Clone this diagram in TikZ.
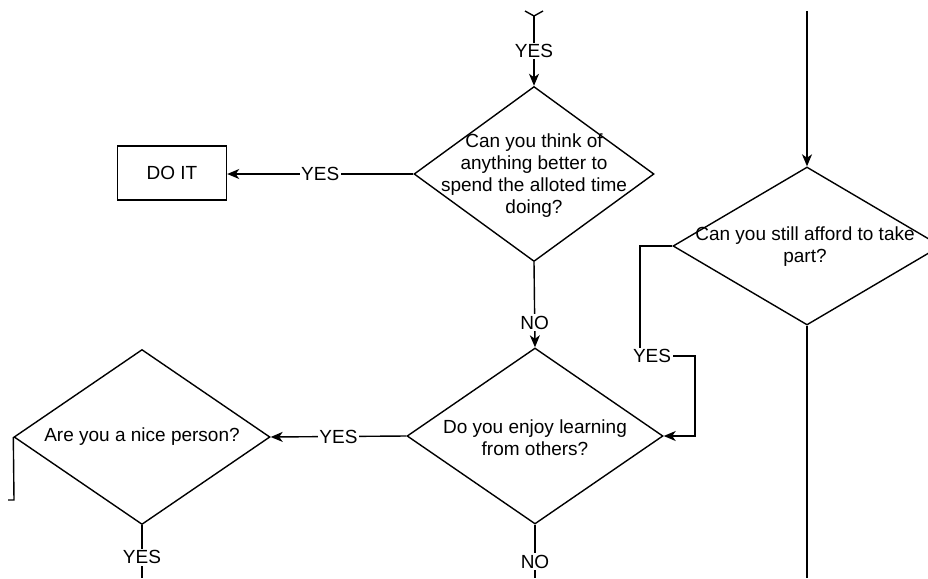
\documentclass[tikz,border=0pt]{standalone}
\usepackage{fontspec}
\setmainfont{Liberation Sans}
\usetikzlibrary{shapes.geometric,arrows.meta}
\begin{document}
\begin{tikzpicture}[x=1pt,y=-1pt, line width=1.4pt,
  every node/.style={font=\fontsize{19}{22}\selectfont},
  dia/.style={draw, diamond, inner sep=0pt},
  txt/.style={align=center, inner sep=0pt},
  box/.style={draw, rectangle, minimum width=109pt, minimum height=54pt, inner sep=0pt},
  arr/.style={-{Stealth[length=12pt,width=10pt,inset=3.5pt]}},
  lbl/.style={fill=white, inner sep=1.5pt}]
\useasboundingbox (0,0) rectangle (928,578);
\clip (0,0) rectangle (928,578);

% diamonds and box
\node[dia, minimum width=240pt, minimum height=175pt] (d1) at (534,174) {};
\node[txt] (d1t) at (534,176) {Can you think of\\anything better to\\spend the alloted time\\doing?};
\node[box] (doit) at (172,173) {DO IT};
\node[dia, minimum width=256pt, minimum height=176pt] (d2) at (535,436) {};
\node[txt] (d2t) at (535,438) {Do you enjoy learning\\from others?};
\node[dia, minimum width=256pt, minimum height=175pt] (d3) at (142,437) {};
\node[txt] (d3t) at (142,437) {Are you a nice person?};
\node[dia, minimum width=268pt, minimum height=158pt] (d4) at (807,246) {};
\node[txt] (d4t) at (805,247) {Can you still afford to take\\part?};

% partial diamond above
\coordinate (d0b) at (534,16);
\coordinate (d0l) at (525,11);
\coordinate (d0r) at (543,11);
\draw (d0l) -- (d0b) -- (d0r);

% off-canvas ends
\coordinate (top4) at (807,11);
\coordinate (bot4) at (807,578);
\coordinate (bot2) at (535,578);
\coordinate (bot3) at (142,578);
\coordinate (l3a) at (14,500);
\coordinate (l3b) at (8,500);
\coordinate (p1) at (640,246);
\coordinate (p2) at (640,356);
\coordinate (p3) at (695,356);
\coordinate (p4) at (695,436);

% connectors
\draw[arr] (d0b) -- node[lbl] {YES} (d1.north);
\draw[arr] (d1.west) -- node[lbl] {YES} (d1.west -| doit.east);
\draw[arr] (d1.south) -- node[lbl, pos=0.71] {NO} (d2.north);
\draw[arr] (d2.west) -- node[lbl] {YES} (d3.east);
\draw (d3.south) -- node[lbl, pos=0.61] {YES} (bot3);
\draw (d2.south) -- node[lbl, pos=0.69] {NO} (bot2);
\draw (d3.west) -- (l3a) -- (l3b);
\draw[arr] (top4) -- (d4.north);
\draw (d4.south) -- (bot4);
\draw[arr] (d4.west) -- (p1) -- (p2) -- (p3) -- (p4) -- (d2.east);
\node[lbl] (yes4) at (652,356) {YES};
\end{tikzpicture}
\end{document}
